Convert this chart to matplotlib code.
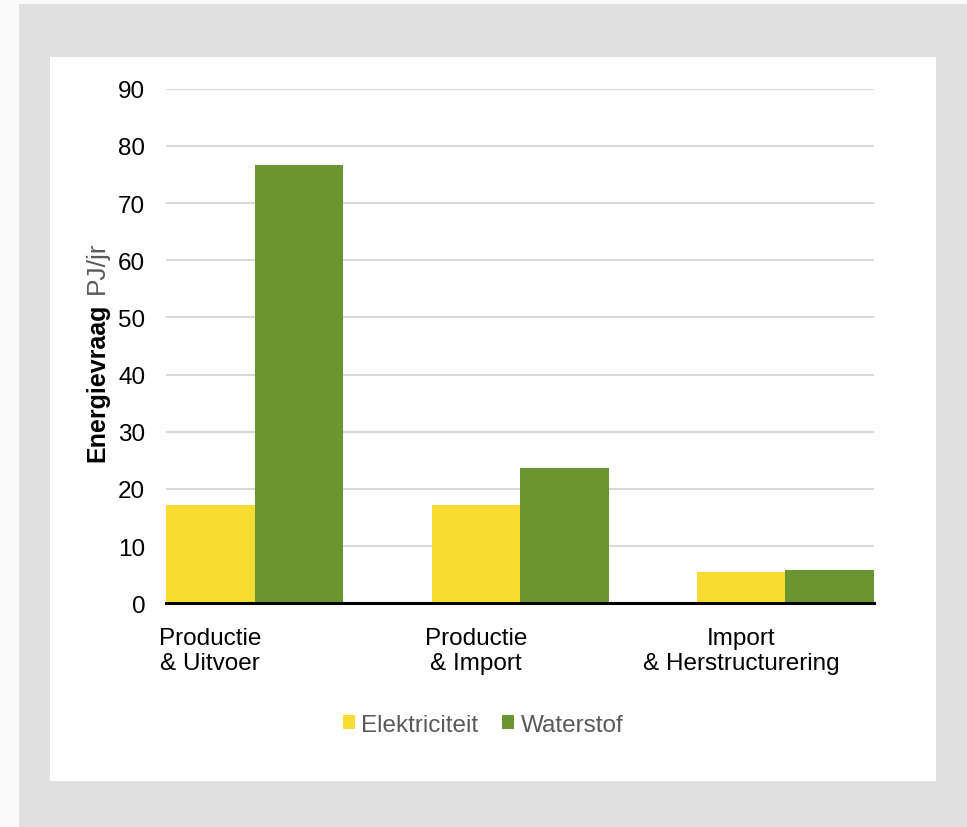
import numpy as np
import matplotlib
matplotlib.use("Agg")
import matplotlib.pyplot as plt
from matplotlib.patches import Rectangle

categories = ["Productie\n& Uitvoer", "Productie\n& Import", "Import\n& Herstructurering"]
series_names = ["Elektriciteit", "Waterstof"]
elektriciteit = [17.2, 17.2, 5.5]
waterstof = [76.6, 23.6, 5.8]
yticks = [0, 10, 20, 30, 40, 50, 60, 70, 80, 90]

YELLOW = "#f9dc32"
GREEN = "#6a9530"
FS = 17.5

plt.rcParams['font.family'] = ['Liberation Sans', 'DejaVu Sans']

fig = plt.figure(figsize=(9.67, 8.28), dpi=100, facecolor="#fafafa")

# frame: grey border with white panel
fig.patches.append(Rectangle((19 / 967, 0), 1, 1 - 5 / 828, transform=fig.transFigure,
                             facecolor="#e0e0e0", edgecolor="none", zorder=-2))
fig.patches.append(Rectangle((50 / 967, 1 - 782 / 828), (936 - 50) / 967, (782 - 58) / 828,
                             transform=fig.transFigure, facecolor="white", edgecolor="none", zorder=-1))

ax = fig.add_axes([166 / 967, 1 - 604.3 / 828, (874 - 166) / 967, (604.3 - 89.7) / 828])
ax.set_facecolor("none")

x = np.arange(len(categories))
w = 1 / 3
ax.bar(x - w / 2, elektriciteit, w, color=YELLOW, label=series_names[0], zorder=2)
ax.bar(x + w / 2, waterstof, w, color=GREEN, label=series_names[1], zorder=2)

ax.set_xlim(-w, len(categories) - 1 + w)
ax.set_ylim(0, 90)
ax.set_yticks(yticks)
ax.set_yticklabels([str(t) for t in yticks], fontsize=FS, color="black")
ax.grid(axis="y", color="#d9d9d9", linewidth=1.5, zorder=0)
ax.set_axisbelow(True)

# category labels sit under the first bar of each group
ax.set_xticks(x - w / 2)
ax.set_xticklabels(categories, fontsize=FS, color="black", linespacing=1.2)
ax.tick_params(axis="both", length=0)
ax.tick_params(axis="y", pad=15)
ax.tick_params(axis="x", pad=17)

for s in ["top", "right", "left"]:
    ax.spines[s].set_visible(False)
ax.spines["bottom"].set_color("black")
ax.spines["bottom"].set_linewidth(2.2)
ax.spines["bottom"].set_zorder(3)

# y label: bold part and grey unit part
fig.canvas.draw()
renderer = fig.canvas.get_renderer()
t1 = fig.text(97 / 967, 1 - 462 / 828, "Energievraag", rotation=90, fontsize=18,
              fontweight="bold", color="black", ha="center", va="bottom")
bb = t1.get_window_extent(renderer)
top = fig.transFigure.inverted().transform((0, bb.y1))[1]
fig.text(97 / 967, top + 10 / 828, "PJ/jr", rotation=90, fontsize=19,
         color="#595959", ha="center", va="bottom")

leg = fig.legend(loc="center", bbox_to_anchor=(483 / 967, 1 - 726 / 828), ncol=2,
                 frameon=False, fontsize=FS, handlelength=0.5, handleheight=0.5,
                 handletextpad=0.25, columnspacing=1.0)
for t in leg.get_texts():
    t.set_color("#595959")

fig.savefig("out.png", dpi=100, facecolor=fig.get_facecolor())
